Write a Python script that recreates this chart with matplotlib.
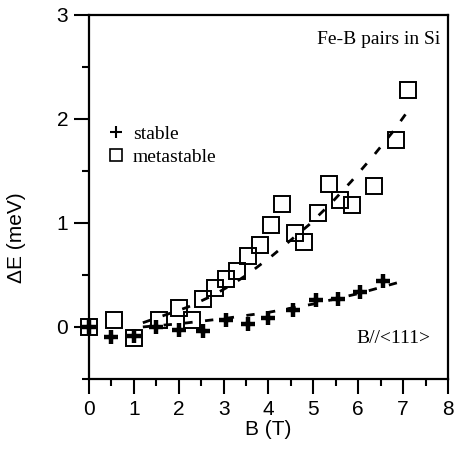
import matplotlib
matplotlib.use("Agg")
import matplotlib.pyplot as plt
from matplotlib.lines import Line2D

# Metastable Fe-B pairs (open squares)
meta_B = [0.0, 0.55, 1.0, 1.55, 2.0, 2.3, 2.55, 2.8, 3.05, 3.3, 3.55, 3.8, 4.05, 4.3,
          4.6, 4.8, 5.1, 5.35, 5.6, 5.85, 6.35, 6.85, 7.1]
meta_E = [0.0, 0.07, -0.11, 0.07, 0.18, 0.07, 0.27, 0.37, 0.46, 0.54, 0.68, 0.79, 0.98, 1.18,
          0.9, 0.82, 1.09, 1.37, 1.22, 1.17, 1.35, 1.80, 2.28]

# Stable Fe-B pairs (crosses)
stab_B = [0.0, 0.5, 1.0, 1.5, 2.0, 2.55, 3.05, 3.55, 4.0, 4.55, 5.05, 5.55, 6.05, 6.55]
stab_E = [0.0, -0.1, -0.09, 0.0, -0.03, -0.04, 0.07, 0.03, 0.09, 0.16, 0.26, 0.27, 0.34, 0.44]

# Dashed fit curves
meta_fit_B = [1.2, 1.6, 2.2, 2.75, 3.2, 3.55, 4.1, 4.9, 5.4, 5.85, 6.35, 6.8, 7.1]
meta_fit_E = [0.04, 0.1, 0.19, 0.3, 0.41, 0.51, 0.69, 0.98, 1.19, 1.40, 1.65, 1.89, 2.07]
stab_fit_B = [1.2, 2.0, 3.0, 4.0, 5.0, 6.0, 7.0]
stab_fit_E = [0.0, 0.03, 0.08, 0.14, 0.22, 0.32, 0.44]

x_ticks = [0, 1, 2, 3, 4, 5, 6, 7, 8]
y_ticks = [0, 1, 2, 3]

fig = plt.figure(figsize=(4.55, 4.59), dpi=100)
ax = fig.add_axes([0.1956, 0.1743, 0.789, 0.794])

ax.plot(meta_fit_B, meta_fit_E, color='black', lw=2.0, dashes=(3, 4.5))
ax.plot(stab_fit_B, stab_fit_E, color='black', lw=2.0, dashes=(3, 4.5))
ax.plot(meta_B, meta_E, linestyle='none', marker='s', markersize=11.5,
        markerfacecolor='none', markeredgecolor='black', markeredgewidth=1.4,
        clip_on=False)
ax.plot(stab_B, stab_E, linestyle='none', marker='+', markersize=10.5,
        color='black', markeredgewidth=3.2, clip_on=False)

ax.set_xlim(0, 8)
ax.set_ylim(-0.5, 3)
ax.set_xticks(x_ticks)
ax.set_yticks(y_ticks)
ax.set_xticks([i + 0.5 for i in range(8)], minor=True)
ax.set_yticks([-0.5 + 0.5 * i for i in range(8)], minor=True)
sans = 'Liberation Sans'
serif = 'Liberation Serif'
ax.set_xticklabels([str(v) for v in x_ticks], fontfamily=sans, fontsize=15)
ax.set_yticklabels([str(v) for v in y_ticks], fontfamily=sans, fontsize=15)
ax.tick_params(which='major', direction='out', length=11, width=1.5, pad=4)
ax.tick_params(which='minor', direction='out', length=5, width=1.5)
for s in ax.spines.values():
    s.set_linewidth(1.6)

ax.set_xlabel('B (T)', fontfamily=sans, fontsize=15)
ax.set_ylabel('ΔE (meV)', fontfamily=sans, fontsize=15)
ax.xaxis.set_label_coords(0.5, -0.112)
ax.yaxis.set_label_coords(-0.175, 0.387)

ax.text(7.82, 2.76, 'Fe-B pairs in Si', fontfamily=serif, fontsize=14,
        ha='right', va='center')
ax.text(7.6, -0.11, 'B//<111>', fontfamily=serif, fontsize=14,
        ha='right', va='center')

handles = [Line2D([], [], linestyle='none', marker='+', markersize=8, color='black',
                  markeredgewidth=1.5),
           Line2D([], [], linestyle='none', marker='s', markersize=9,
                  markerfacecolor='none', markeredgecolor='black', markeredgewidth=1.2)]
leg = ax.legend(handles, ['stable', 'metastable'], loc='upper left',
                bbox_to_anchor=(0.0, 0.745), frameon=False, handlelength=1.0,
                handletextpad=0.35, labelspacing=0.3,
                prop={'family': serif, 'size': 14})

fig.savefig('out.png', dpi=100)
